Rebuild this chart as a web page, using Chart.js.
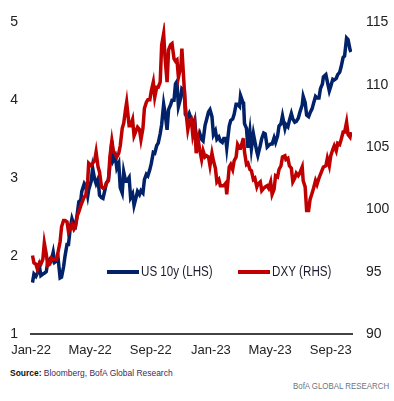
<!DOCTYPE html>
<html>
<head>
<meta charset="utf-8">
<script src="https://cdn.jsdelivr.net/npm/chart.js@4"></script>
<style>
  body { margin: 0; background: #fff; font-family: "Liberation Sans", Arial, sans-serif; }
  #wrap { position: relative; width: 394px; height: 365px; }
  .src { position: absolute; left: 10px; top: 367px; font-size: 9.5px; color: #3b2c5c; white-space: nowrap; transform: scaleX(0.89); transform-origin: left top; }
  .src b { color: #111; }
  .brand { position: absolute; left: 293px; top: 380px; font-size: 9.5px; color: #6a7683; white-space: nowrap; transform: scaleX(0.83); transform-origin: left top; }
</style>
</head>
<body>
<div id="wrap"><canvas id="chart"></canvas></div>
<div class="src"><b>Source:</b> Bloomberg, BofA Global Research</div>
<div class="brand">BofA GLOBAL RESEARCH</div>
<script>
const dates = [
  '2022-01-04','2022-01-07','2022-01-11','2022-01-14','2022-01-18','2022-01-21','2022-01-25','2022-01-28',
  '2022-02-01','2022-02-04','2022-02-08','2022-02-11','2022-02-15','2022-02-18','2022-02-22','2022-02-25',
  '2022-03-01','2022-03-04','2022-03-08','2022-03-11','2022-03-15','2022-03-18','2022-03-22','2022-03-25','2022-03-29',
  '2022-04-01','2022-04-05','2022-04-08','2022-04-12','2022-04-14','2022-04-19','2022-04-22','2022-04-26','2022-04-28',
  '2022-05-03','2022-05-06','2022-05-10','2022-05-13','2022-05-17','2022-05-20','2022-05-24','2022-05-27','2022-05-31',
  '2022-06-03','2022-06-07','2022-06-10','2022-06-14','2022-06-17','2022-06-21','2022-06-24','2022-06-28',
  '2022-07-01','2022-07-05','2022-07-08','2022-07-12','2022-07-14','2022-07-19','2022-07-22','2022-07-26','2022-07-29',
  '2022-08-02','2022-08-05','2022-08-09','2022-08-12','2022-08-16','2022-08-19','2022-08-23','2022-08-26','2022-08-30',
  '2022-09-02','2022-09-06','2022-09-09','2022-09-13','2022-09-16','2022-09-20','2022-09-23','2022-09-27','2022-09-30',
  '2022-10-04','2022-10-07','2022-10-11','2022-10-14','2022-10-18','2022-10-21','2022-10-24','2022-10-27',
  '2022-11-01','2022-11-03','2022-11-08','2022-11-10','2022-11-15','2022-11-18','2022-11-22','2022-11-25','2022-11-29',
  '2022-12-02','2022-12-06','2022-12-09','2022-12-13','2022-12-16','2022-12-20','2022-12-23','2022-12-27','2022-12-30',
  '2023-01-03','2023-01-06','2023-01-10','2023-01-13','2023-01-17','2023-01-20','2023-01-24','2023-01-27','2023-01-31',
  '2023-02-02','2023-02-07','2023-02-10','2023-02-14','2023-02-17','2023-02-21','2023-02-24','2023-02-28',
  '2023-03-02','2023-03-07','2023-03-08','2023-03-10','2023-03-14','2023-03-17','2023-03-21','2023-03-24','2023-03-28','2023-03-31',
  '2023-04-04','2023-04-06','2023-04-11','2023-04-14','2023-04-18','2023-04-21','2023-04-25','2023-04-28',
  '2023-05-02','2023-05-05','2023-05-09','2023-05-12','2023-05-16','2023-05-19','2023-05-23','2023-05-26','2023-05-31',
  '2023-06-02','2023-06-06','2023-06-09','2023-06-13','2023-06-16','2023-06-20','2023-06-23','2023-06-27','2023-06-30',
  '2023-07-05','2023-07-07','2023-07-11','2023-07-14','2023-07-18','2023-07-21','2023-07-25','2023-07-28',
  '2023-08-01','2023-08-04','2023-08-08','2023-08-11','2023-08-15','2023-08-17','2023-08-22','2023-08-25','2023-08-29',
  '2023-09-01','2023-09-05','2023-09-08','2023-09-12','2023-09-15','2023-09-19','2023-09-22','2023-09-26','2023-09-29',
  '2023-10-03','2023-10-06','2023-10-10','2023-10-12'
];

const us10y = [
  1.66,1.77,1.74,1.78,1.87,1.75,1.77,1.78,
  1.80,1.93,1.96,1.94,2.05,1.92,1.94,1.97,
  1.72,1.73,1.86,2.00,2.15,2.15,2.38,2.48,2.40,
  2.38,2.55,2.70,2.72,2.83,2.93,2.90,2.77,2.85,
  2.96,3.13,2.99,2.93,2.99,2.78,2.75,2.74,2.85,
  2.94,2.98,3.16,3.48,3.23,3.28,3.13,3.19,
  2.88,2.81,3.08,2.96,2.96,3.01,2.75,2.80,2.65,
  2.75,2.83,2.79,2.84,2.81,2.98,3.05,3.03,3.11,
  3.19,3.33,3.32,3.42,3.45,3.57,3.69,3.95,3.83,
  3.62,3.88,3.94,4.00,4.00,4.21,4.24,3.92,
  4.04,4.15,4.12,3.82,3.78,3.83,3.76,3.68,3.75,
  3.49,3.53,3.58,3.50,3.48,3.68,3.75,3.85,3.88,
  3.79,3.56,3.61,3.50,3.53,3.48,3.46,3.51,3.51,
  3.39,3.67,3.74,3.76,3.82,3.95,3.95,3.92,
  4.06,3.97,3.98,3.70,3.64,3.39,3.60,3.38,3.57,3.47,
  3.34,3.29,3.42,3.51,3.58,3.57,3.40,3.42,
  3.44,3.44,3.52,3.46,3.54,3.67,3.70,3.80,3.64,
  3.69,3.66,3.74,3.83,3.76,3.72,3.73,3.77,3.84,
  3.94,4.05,3.97,3.81,3.79,3.84,3.89,3.96,
  4.05,4.03,4.03,4.15,4.21,4.30,4.33,4.24,4.12,
  4.18,4.27,4.26,4.28,4.33,4.36,4.43,4.55,4.57,
  4.80,4.78,4.65,4.62
];

const dxy = [
  96.3,95.7,95.6,95.2,95.7,95.6,96.0,97.3,
  96.4,95.5,95.6,96.1,96.0,96.0,96.0,96.6,
  97.4,98.6,99.1,99.1,99.0,98.2,98.5,98.8,98.4,
  98.6,99.5,99.8,100.3,100.5,101.0,101.1,102.3,103.7,
  103.5,103.7,103.9,104.6,103.4,103.0,101.8,101.7,101.8,
  102.1,102.3,104.2,105.5,104.7,104.4,104.2,104.5,
  105.1,106.5,106.9,108.1,108.6,106.7,106.7,107.2,105.9,
  106.3,106.6,106.4,105.6,106.5,108.1,108.6,108.8,108.8,
  109.5,110.2,109.0,109.8,109.8,110.2,113.2,114.1,112.1,
  110.2,112.8,113.2,113.3,112.1,111.9,112.0,110.6,
  111.5,112.9,109.6,108.3,106.4,107.0,107.2,106.0,106.8,
  104.5,105.6,104.8,104.0,104.7,104.2,104.3,104.2,103.5,
  104.5,103.9,103.3,102.2,102.4,101.9,101.9,101.9,102.1,
  101.2,103.4,103.6,103.2,103.9,104.2,105.2,104.9,
  104.9,105.6,105.7,104.6,103.6,103.7,103.2,103.1,102.4,102.5,
  101.8,102.0,102.2,101.5,101.7,101.8,101.9,101.7,
  102.2,101.2,101.6,102.7,102.6,103.2,103.5,104.2,104.3,
  104.0,104.1,103.5,103.3,102.2,102.5,102.9,102.7,102.9,
  103.4,102.3,101.8,99.9,99.9,100.8,101.3,101.7,
  102.3,102.0,102.5,102.8,103.2,103.4,103.5,104.1,103.5,
  104.3,104.8,105.1,104.7,105.3,105.2,105.6,106.2,106.2,
  107.0,106.0,105.8,106.2
];

const tickDates = ['2022-01-01','2022-05-01','2022-09-01','2023-01-01','2023-05-01','2023-09-01'];
const tickLabels = ['Jan-22','May-22','Sep-22','Jan-23','May-23','Sep-23'];

const base = Date.UTC(2022, 0, 1);
function dayIndex(s) {
  const p = s.split('-').map(Number);
  return (Date.UTC(p[0], p[1] - 1, p[2]) - base) / 86400000;
}
const xs = dates.map(dayIndex);
const tickDays = tickDates.map(dayIndex);

const FONT = '"Liberation Sans", Arial, sans-serif';
const BLUE = '#012169';
const RED = '#c00000';

// legend sits inside the plot, above the x axis
const legendPlugin = {
  id: 'insideLegend',
  afterDraw(chart) {
    const c = chart.ctx;
    const items = [
      { x: 107, label: 'US 10y (LHS)', color: BLUE },
      { x: 238, label: 'DXY (RHS)', color: RED }
    ];
    c.save();
    c.font = '14px ' + FONT;
    c.textBaseline = 'middle';
    items.forEach(it => {
      c.strokeStyle = it.color;
      c.lineWidth = 4;
      c.beginPath();
      c.moveTo(it.x, 272);
      c.lineTo(it.x + 32, 272);
      c.stroke();
      c.save();
      c.translate(it.x + 34, 272);
      c.scale(0.83, 1);
      c.fillStyle = '#1c1c2c';
      c.fillText(it.label, 0, 0);
      c.restore();
    });
    c.restore();
  }
};

new Chart(document.getElementById('chart'), {
  type: 'line',
  data: {
    datasets: [
      {
        label: 'DXY (RHS)',
        data: xs.map((x, i) => ({ x: x, y: dxy[i] })),
        borderColor: RED,
        borderWidth: 3.5,
        pointRadius: 0,
        tension: 0,
        yAxisID: 'y2'
      },
      {
        label: 'US 10y (LHS)',
        data: xs.map((x, i) => ({ x: x, y: us10y[i] })),
        borderColor: BLUE,
        borderWidth: 3.5,
        pointRadius: 0,
        tension: 0,
        yAxisID: 'y'
      }
    ]
  },
  options: {
    responsive: true,
    maintainAspectRatio: false,
    animation: false,
    layout: { padding: { top: 4, left: 0, right: 0, bottom: 0 } },
    plugins: { legend: { display: false }, tooltip: { enabled: false } },
    scales: {
      x: {
        type: 'linear',
        min: 0,
        max: 651,
        grid: { display: false, drawTicks: false },
        border: { color: '#444', width: 2 },
        afterBuildTicks: s => { s.ticks = tickDays.map(v => ({ value: v })); },
        afterFit: s => { s.height = 31; },
        ticks: {
          autoSkip: false,
          maxRotation: 0,
          padding: 9,
          color: '#222',
          font: { family: FONT, size: 13 },
          callback: (v) => tickLabels[tickDays.indexOf(v)]
        }
      },
      y: {
        position: 'left',
        min: 1,
        max: 5,
        grid: { display: false, drawTicks: false },
        border: { display: false },
        afterFit: s => { s.width = 31; },
        ticks: { stepSize: 1, padding: 13, color: '#222', font: { family: FONT, size: 14 } }
      },
      y2: {
        position: 'right',
        min: 90,
        max: 115,
        grid: { display: false, drawTicks: false },
        border: { display: false },
        afterFit: s => { s.width = 42; },
        ticks: { stepSize: 5, padding: 14, color: '#222', font: { family: FONT, size: 14 } }
      }
    }
  },
  plugins: [legendPlugin]
});
</script>
</body>
</html>
